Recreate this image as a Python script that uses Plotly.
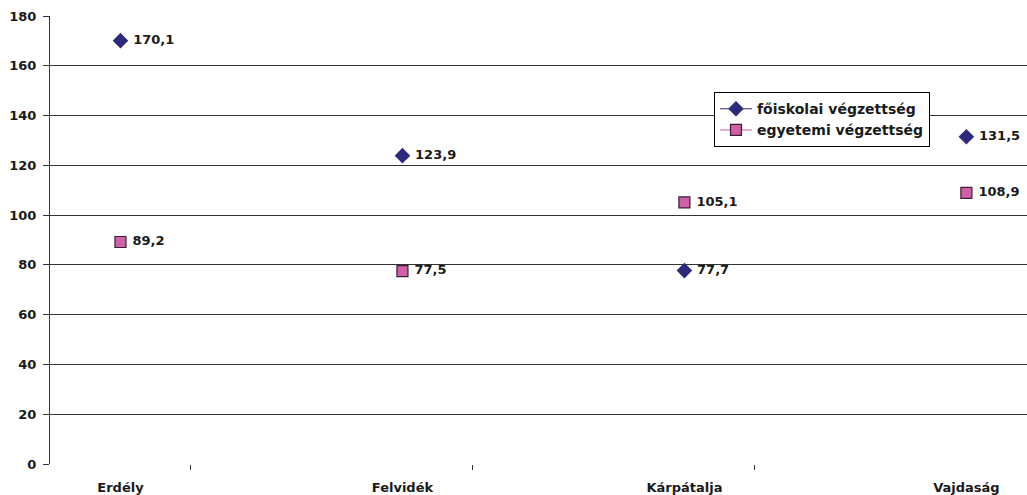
import plotly.graph_objects as go

categories = ["Erdély", "Felvidék", "Kárpátalja", "Vajdaság"]
foiskolai = [170.1, 123.9, 77.7, 131.5]
egyetemi = [89.2, 77.5, 105.1, 108.9]
y_ticks = [0, 20, 40, 60, 80, 100, 120, 140, 160, 180]
series_names = ["főiskolai végzettség", "egyetemi végzettség"]

xpos = [2 * i for i in range(len(categories))]
x_minor_ticks = [0.5, 2.5, 4.5]

def fmt(v):
    return "<b>" + f"{v:.1f}".replace(".", ",") + "</b>"

FAM = "DejaVu Sans"
TXT = "#1a1a1a"
tf = dict(family=FAM, size=13, color=TXT)

NAVY = "#2D2A7A"
PINK = "#D060A8"

dia = dict(symbol="diamond", size=12, color=NAVY, line=dict(width=0))
sq = dict(symbol="square", size=11, color=PINK, line=dict(width=1.2, color="#3a1f30"))

fig = go.Figure()
fig.add_trace(go.Scatter(
    x=xpos, y=foiskolai, name=series_names[0], showlegend=False, cliponaxis=False,
    mode="markers+text", text=[" " + fmt(v) for v in foiskolai],
    textposition="middle right", textfont=tf, marker=dia,
))
fig.add_trace(go.Scatter(
    x=xpos, y=egyetemi, name=series_names[1], showlegend=False, cliponaxis=False,
    mode="markers+text", text=[" " + fmt(v) for v in egyetemi],
    textposition="middle right", textfont=tf, marker=sq,
))
# legend entries (line + marker, as in the original legend)
fig.add_trace(go.Scatter(
    x=[None], y=[None], name="<b>" + series_names[0] + "</b>", mode="lines+markers",
    marker=dia, line=dict(color=NAVY, width=1),
))
fig.add_trace(go.Scatter(
    x=[None], y=[None], name="<b>" + series_names[1] + "</b>", mode="lines+markers",
    marker=sq, line=dict(color=PINK, width=1),
))

fig.update_layout(
    width=1027, height=495,
    margin=dict(l=50, r=0, t=16, b=31, autoexpand=False),
    paper_bgcolor="white", plot_bgcolor="white",
    font=tf,
    showlegend=True,
    legend=dict(
        x=0.6796, y=0.83, xanchor="left", yanchor="top",
        bgcolor="white", bordercolor="#000000", borderwidth=1,
        font=dict(family=FAM, size=14, color=TXT), tracegroupgap=0, itemwidth=32,
    ),
    xaxis=dict(
        range=[-0.5, 6.43], tickvals=xpos, ticktext=["<b>" + c + "</b>" for c in categories],
        ticks="", showgrid=False, zeroline=False, showline=False, automargin=False,
        tickfont=tf, ticklabelstandoff=14,
        minor=dict(tickvals=x_minor_ticks, ticks="outside", ticklen=5, tickcolor="#333", showgrid=False),
    ),
    yaxis=dict(
        range=[0, 180], tickvals=y_ticks, ticktext=["<b>%d</b>" % v for v in y_ticks],
        ticks="outside", ticklen=6, tickcolor="#333", automargin=False,
        showgrid=True, gridcolor="#333333", gridwidth=1,
        zeroline=False, showline=True, linecolor="#333333", linewidth=1,
        tickfont=tf, ticklabelstandoff=4,
    ),
)

fig.write_html("out.html", config={"displayModeBar": False},
               post_script="document.body.style.margin='0';document.body.style.padding='0';")
